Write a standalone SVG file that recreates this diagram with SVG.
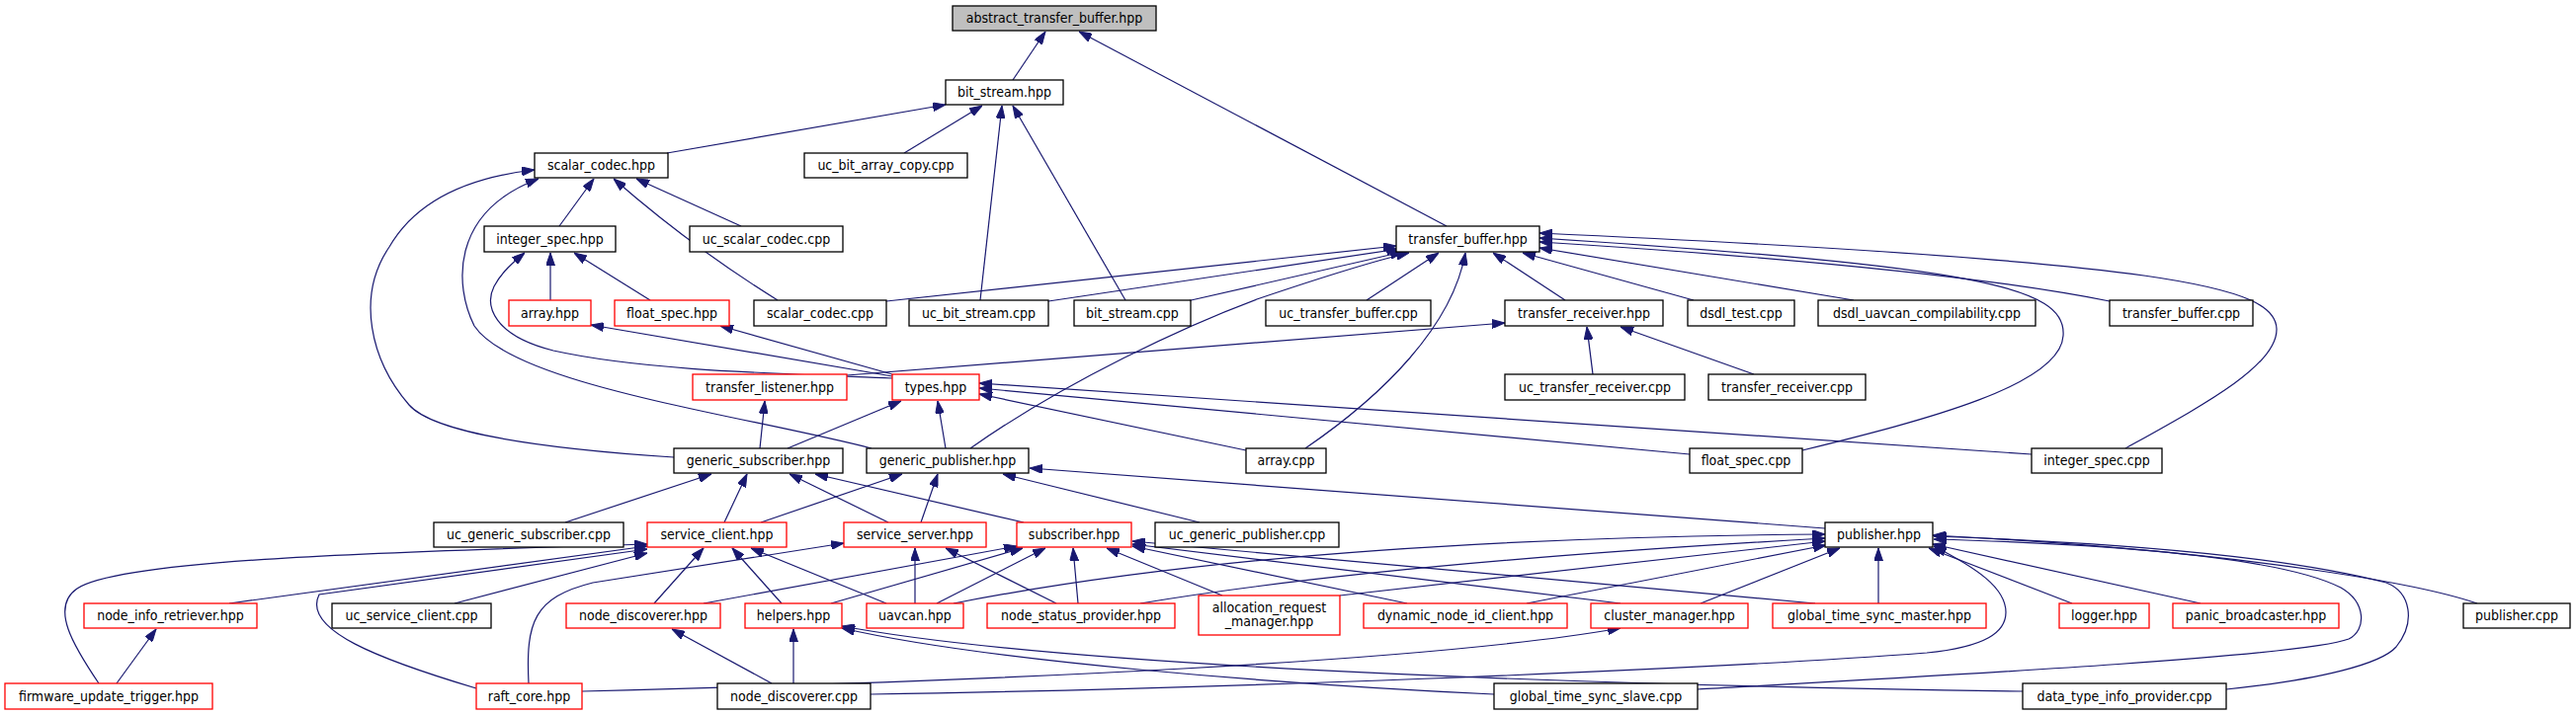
<svg xmlns="http://www.w3.org/2000/svg" width="2607" height="724" viewBox="0 0 2607 724">
<defs>
<style>
rect{fill:#fff;stroke:#000;stroke-width:1.3}
.r rect{stroke:#ff0000}
.root rect{fill:#bfbfbf}
text{font-family:'DejaVu Sans Condensed','DejaVu Sans',sans-serif;font-stretch:condensed;font-size:14px;text-anchor:middle;fill:#000}
#edges path{fill:none;stroke:#191970;stroke-width:1.2;marker-end:url(#ah)}
</style>
<marker id="ah" viewBox="0 0 13 9" refX="13" refY="4.5" markerWidth="13" markerHeight="9" markerUnits="userSpaceOnUse" orient="auto"><path d="M0,0 L13,4.5 L0,9 z" fill="#191970" stroke="#191970" stroke-width="1"/></marker>
</defs>
<rect x="0" y="0" width="2607" height="724" style="fill:#fff;stroke:none"/>
<g id="edges">
<path d="M1025,81 L1058,32"/>
<path d="M1464,229 L1092,32"/>
<path d="M675,155 L957,106"/>
<path d="M915,155 L994,107"/>
<path d="M992,304 L1014,107"/>
<path d="M1139,304 L1025,107"/>
<path d="M566,229 L601,181"/>
<path d="M750,229 L644,181"/>
<path d="M787,304 Q700,250 621,181"/>
<path d="M682,463 C560,455 440,440 414,410 C375,365 360,300 394,250 C420,205 470,180 541,172"/>
<path d="M882,454 C750,420 520,390 480,330 C460,290 455,215 545,181"/>
<path d="M557,304 L557,256"/>
<path d="M658,304 L581,256"/>
<path d="M903,383 C780,378 650,375 560,355 C500,340 490,310 500,290 C508,275 520,265 531,256"/>
<path d="M903,381 L598,329"/>
<path d="M903,379 L729,330"/>
<path d="M897,305 L1413,249"/>
<path d="M1061,305 L1416,252"/>
<path d="M1201,305 L1420,255"/>
<path d="M982,454 C1080,385 1200,330 1272,303 C1340,280 1400,262 1426,256"/>
<path d="M1383,304 L1456,256"/>
<path d="M1321,454 C1400,400 1470,330 1483,256"/>
<path d="M1584,304 L1511,256"/>
<path d="M1714,304 L1541,256"/>
<path d="M1876,304 L1558,251"/>
<path d="M2135,305 Q1960,270 1558,245"/>
<path d="M1824,456 C1950,425 2085,390 2088,340 C2092,290 2000,270 1558,241"/>
<path d="M2151,454 C2230,410 2305,370 2304,333 C2303,290 2200,265 1558,236"/>
<path d="M857,380 L1523,327"/>
<path d="M1612,379 L1606,331"/>
<path d="M1775,379 L1640,331"/>
<path d="M769,454 L774,406"/>
<path d="M797,454 L912,406"/>
<path d="M957,454 L949,406"/>
<path d="M1261,456 L991,399"/>
<path d="M1710,460 L991,393"/>
<path d="M2056,460 Q1600,430 991,388"/>
<path d="M572,529 L720,480"/>
<path d="M733,529 L756,480"/>
<path d="M899,529 L799,480"/>
<path d="M1036,529 L825,480"/>
<path d="M770,529 L913,480"/>
<path d="M932,529 L949,480"/>
<path d="M1214,529 L1015,480"/>
<path d="M1847,535 L1042,474"/>
<path d="M232,611 L655,553"/>
<path d="M100,692 C75,655 50,615 78,596 C120,568 350,560 655,551"/>
<path d="M460,611 L655,560"/>
<path d="M482,697 C385,668 305,638 323,602 L655,556"/>
<path d="M662,611 L712,555"/>
<path d="M791,611 L741,555"/>
<path d="M897,611 L760,555"/>
<path d="M535,692 C532,630 540,605 600,590 L854,550"/>
<path d="M926,611 L926,555"/>
<path d="M1069,611 L957,555"/>
<path d="M712,611 L1029,553"/>
<path d="M841,611 L1035,555"/>
<path d="M948,611 L1058,555"/>
<path d="M1091,611 L1086,555"/>
<path d="M1237,603 L1120,555"/>
<path d="M1424,611 L1146,553"/>
<path d="M1640,611 L1146,551"/>
<path d="M1837,611 L1146,548"/>
<path d="M965,611 Q1300,545 1847,541"/>
<path d="M1154,611 Q1400,570 1847,545"/>
<path d="M1356,603 L1847,548"/>
<path d="M1545,611 L1848,552"/>
<path d="M1721,611 L1862,555"/>
<path d="M1901,611 L1901,555"/>
<path d="M2097,611 L1952,555"/>
<path d="M2227,611 L1956,551"/>
<path d="M2507,611 C2460,595 2300,560 1956,542"/>
<path d="M881,703 C1200,698 1700,680 1950,661 C2010,655 2030,640 2030,620 C2030,595 2000,575 1957,553"/>
<path d="M1718,698 C1950,685 2330,665 2377,647 C2395,638 2395,610 2369,595 C2300,560 2100,550 1957,546"/>
<path d="M2253,698 C2350,688 2410,672 2425,655 C2445,630 2440,600 2415,590 C2300,560 2100,548 1957,543"/>
<path d="M118,692 L158,637"/>
<path d="M803,692 L803,637"/>
<path d="M781,692 L680,637"/>
<path d="M1512,703 C1300,693 1000,670 852,636"/>
<path d="M2047,700 C1700,695 1100,680 852,634"/>
<path d="M589,700 C1000,690 1450,670 1640,636"/>
</g>
<g id="n_atb" class="root"><rect x="964" y="6" width="206" height="25"/><text x="1067" y="23">abstract_transfer_buffer.hpp</text></g>
<g id="n_bsh"><rect x="957" y="81" width="119" height="25"/><text x="1016.5" y="98">bit_stream.hpp</text></g>
<g id="n_sch"><rect x="541" y="155" width="135" height="25"/><text x="608.5" y="172">scalar_codec.hpp</text></g>
<g id="n_ubac"><rect x="814" y="155" width="165" height="25"/><text x="896.5" y="172">uc_bit_array_copy.cpp</text></g>
<g id="n_ish"><rect x="490" y="229" width="133" height="26"/><text x="556.5" y="247">integer_spec.hpp</text></g>
<g id="n_uscc"><rect x="698" y="229" width="155" height="26"/><text x="775.5" y="247">uc_scalar_codec.cpp</text></g>
<g id="n_tbh"><rect x="1413" y="229" width="145" height="26"/><text x="1485.5" y="247">transfer_buffer.hpp</text></g>
<g id="n_arrh" class="r"><rect x="515" y="304" width="83" height="26"/><text x="556.5" y="322">array.hpp</text></g>
<g id="n_fsh" class="r"><rect x="622" y="304" width="116" height="26"/><text x="680" y="322">float_spec.hpp</text></g>
<g id="n_scc"><rect x="763" y="304" width="134" height="26"/><text x="830" y="322">scalar_codec.cpp</text></g>
<g id="n_ubs"><rect x="920" y="304" width="141" height="26"/><text x="990.5" y="322">uc_bit_stream.cpp</text></g>
<g id="n_bsc"><rect x="1087" y="304" width="118" height="26"/><text x="1146" y="322">bit_stream.cpp</text></g>
<g id="n_utb"><rect x="1281" y="304" width="167" height="26"/><text x="1364.5" y="322">uc_transfer_buffer.cpp</text></g>
<g id="n_trh"><rect x="1523" y="304" width="160" height="26"/><text x="1603" y="322">transfer_receiver.hpp</text></g>
<g id="n_dt"><rect x="1708" y="304" width="108" height="26"/><text x="1762" y="322">dsdl_test.cpp</text></g>
<g id="n_duc"><rect x="1840" y="304" width="220" height="26"/><text x="1950" y="322">dsdl_uavcan_compilability.cpp</text></g>
<g id="n_tbc"><rect x="2135" y="304" width="145" height="26"/><text x="2207.5" y="322">transfer_buffer.cpp</text></g>
<g id="n_tlh" class="r"><rect x="701" y="379" width="156" height="26"/><text x="779" y="397">transfer_listener.hpp</text></g>
<g id="n_ty" class="r"><rect x="903" y="379" width="88" height="26"/><text x="947" y="397">types.hpp</text></g>
<g id="n_utr"><rect x="1523" y="379" width="182" height="26"/><text x="1614" y="397">uc_transfer_receiver.cpp</text></g>
<g id="n_trc"><rect x="1729" y="379" width="159" height="26"/><text x="1808.5" y="397">transfer_receiver.cpp</text></g>
<g id="n_gsh"><rect x="682" y="454" width="171" height="25"/><text x="767.5" y="471">generic_subscriber.hpp</text></g>
<g id="n_gph"><rect x="877" y="454" width="164" height="25"/><text x="959" y="471">generic_publisher.hpp</text></g>
<g id="n_arc"><rect x="1261" y="454" width="81" height="25"/><text x="1301.5" y="471">array.cpp</text></g>
<g id="n_fsc"><rect x="1710" y="454" width="114" height="25"/><text x="1767" y="471">float_spec.cpp</text></g>
<g id="n_isc"><rect x="2056" y="454" width="132" height="25"/><text x="2122" y="471">integer_spec.cpp</text></g>
<g id="n_ugs"><rect x="439" y="529" width="192" height="25"/><text x="535" y="546">uc_generic_subscriber.cpp</text></g>
<g id="n_sclh" class="r"><rect x="655" y="529" width="141" height="25"/><text x="725.5" y="546">service_client.hpp</text></g>
<g id="n_ssvh" class="r"><rect x="854" y="529" width="144" height="25"/><text x="926" y="546">service_server.hpp</text></g>
<g id="n_subh" class="r"><rect x="1029" y="529" width="116" height="25"/><text x="1087" y="546">subscriber.hpp</text></g>
<g id="n_ugp"><rect x="1169" y="529" width="186" height="25"/><text x="1262" y="546">uc_generic_publisher.cpp</text></g>
<g id="n_pubh"><rect x="1847" y="529" width="109" height="25"/><text x="1901.5" y="546">publisher.hpp</text></g>
<g id="n_nir" class="r"><rect x="85" y="611" width="175" height="25"/><text x="172.5" y="628">node_info_retriever.hpp</text></g>
<g id="n_uscl"><rect x="336" y="611" width="161" height="25"/><text x="416.5" y="628">uc_service_client.cpp</text></g>
<g id="n_ndh" class="r"><rect x="573" y="611" width="156" height="25"/><text x="651" y="628">node_discoverer.hpp</text></g>
<g id="n_hlp" class="r"><rect x="754" y="611" width="98" height="25"/><text x="803" y="628">helpers.hpp</text></g>
<g id="n_uav" class="r"><rect x="877" y="611" width="98" height="25"/><text x="926" y="628">uavcan.hpp</text></g>
<g id="n_nsp" class="r"><rect x="999" y="611" width="190" height="25"/><text x="1094" y="628">node_status_provider.hpp</text></g>
<g id="n_arm" class="r"><rect x="1213" y="603" width="143" height="40"/><text x="1284.5" y="620">allocation_request</text><text x="1284.5" y="634">_manager.hpp</text></g>
<g id="n_dnc" class="r"><rect x="1380" y="611" width="206" height="25"/><text x="1483" y="628">dynamic_node_id_client.hpp</text></g>
<g id="n_cm" class="r"><rect x="1610" y="611" width="159" height="25"/><text x="1689.5" y="628">cluster_manager.hpp</text></g>
<g id="n_gtm" class="r"><rect x="1794" y="611" width="216" height="25"/><text x="1902" y="628">global_time_sync_master.hpp</text></g>
<g id="n_log" class="r"><rect x="2084" y="611" width="91" height="25"/><text x="2129.5" y="628">logger.hpp</text></g>
<g id="n_pb" class="r"><rect x="2199" y="611" width="168" height="25"/><text x="2283" y="628">panic_broadcaster.hpp</text></g>
<g id="n_pc"><rect x="2493" y="611" width="108" height="25"/><text x="2547" y="628">publisher.cpp</text></g>
<g id="n_fut" class="r"><rect x="5" y="692" width="210" height="26"/><text x="110" y="710">firmware_update_trigger.hpp</text></g>
<g id="n_rc" class="r"><rect x="482" y="692" width="107" height="26"/><text x="535.5" y="710">raft_core.hpp</text></g>
<g id="n_ndc"><rect x="726" y="692" width="155" height="26"/><text x="803.5" y="710">node_discoverer.cpp</text></g>
<g id="n_gts"><rect x="1512" y="692" width="206" height="26"/><text x="1615" y="710">global_time_sync_slave.cpp</text></g>
<g id="n_dti"><rect x="2047" y="692" width="206" height="26"/><text x="2150" y="710">data_type_info_provider.cpp</text></g>
</svg>
